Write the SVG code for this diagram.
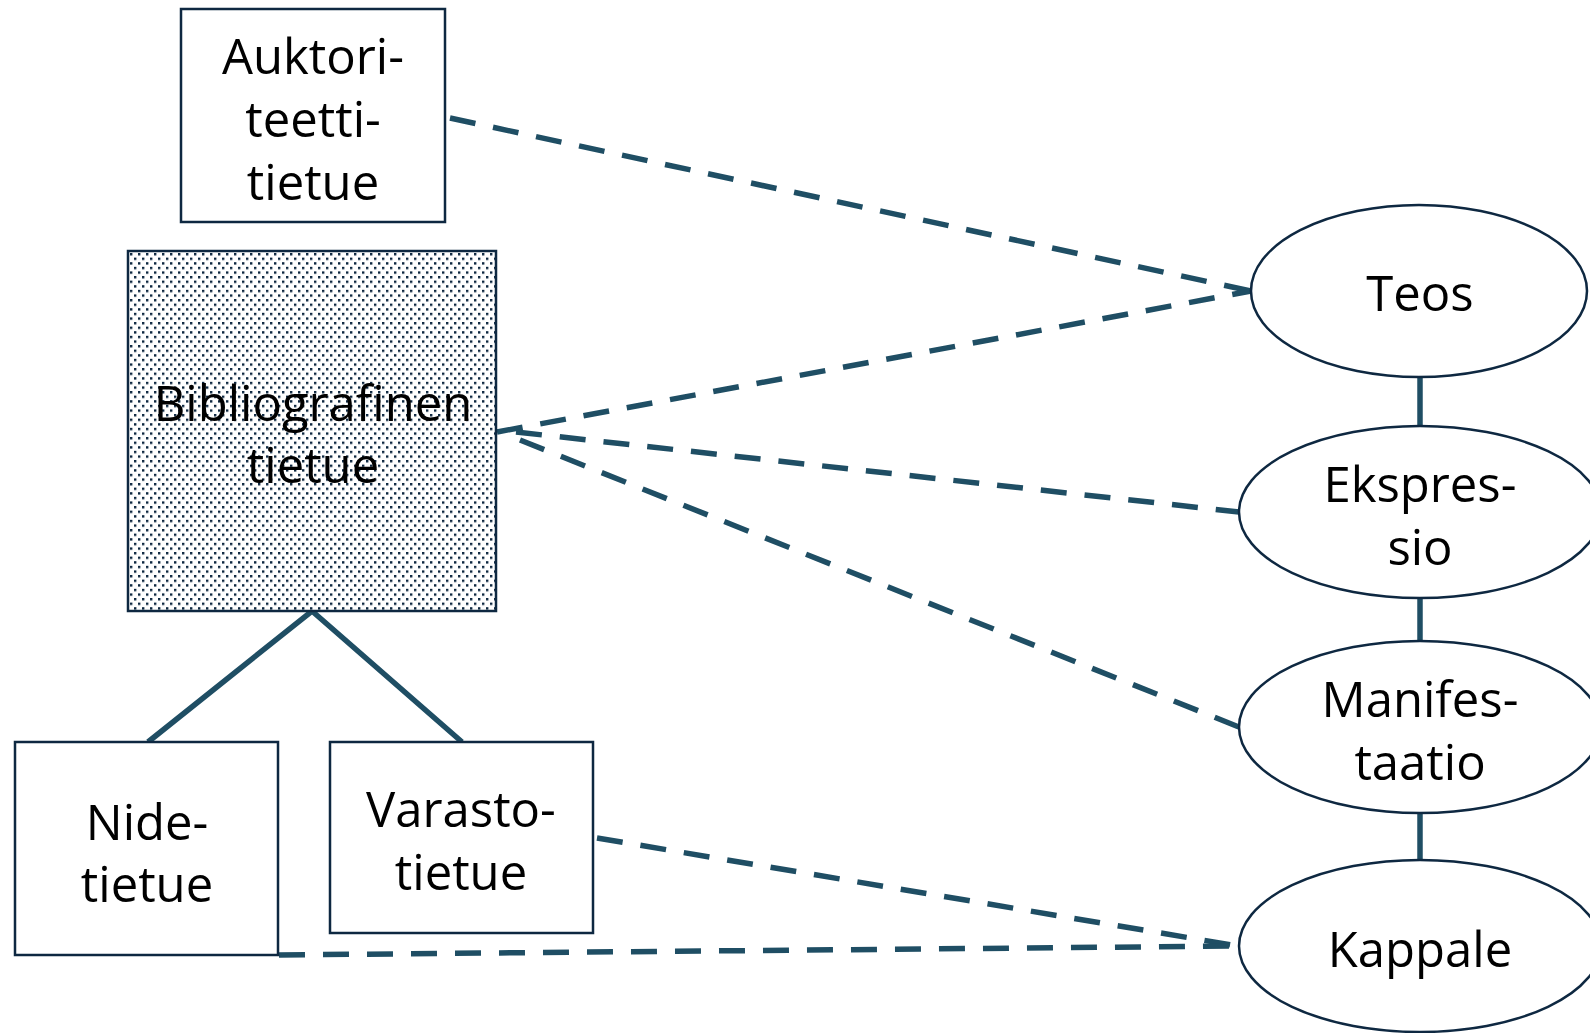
<svg xmlns="http://www.w3.org/2000/svg" width="1590" height="1033" viewBox="0 0 1590 1033">
  <defs>
    <pattern id="dots" patternUnits="userSpaceOnUse" x="130" y="253" width="8" height="9.2">
      <rect x="0" y="0" width="2.4" height="2.4" fill="#0E2841"/>
      <rect x="4" y="4.6" width="2.4" height="2.4" fill="#0E2841"/>
    </pattern>
    <style>
      .box { fill: #FFFFFF; stroke: #0E2841; stroke-width: 2.5; }
      .ell { fill: #FFFFFF; stroke: #0E2841; stroke-width: 2.5; }
      .txt { font-family: "Open Sans", "Noto Sans", "Liberation Sans", sans-serif; font-size: 49px; fill: #000000; text-anchor: middle; }
      .dash { fill: none; stroke: #1F4E64; stroke-width: 5.5; stroke-dasharray: 26 18; }
      .solid { fill: none; stroke: #1F4E64; stroke-width: 5.5; }
    </style>
  </defs>
  <rect width="1590" height="1033" fill="#FFFFFF"/>

  <g id="connectors">
    <line class="dash" x1="450" y1="118" x2="1251" y2="291"/>
    <line class="dash" x1="497" y1="432" x2="1251" y2="291"/>
    <line class="dash" x1="516" y1="432" x2="1239" y2="512"/>
    <line class="dash" x1="520" y1="440" x2="1239" y2="727"/>
    <line class="dash" x1="597" y1="838" x2="1238" y2="946"/>
    <line class="dash" x1="279" y1="955" x2="1238" y2="946"/>
    <polyline class="solid" points="148,742 312,611 462,742"/>
    <line class="solid" x1="1420" y1="377" x2="1420" y2="426"/>
    <line class="solid" x1="1420" y1="598" x2="1420" y2="641"/>
    <line class="solid" x1="1420" y1="813" x2="1420" y2="860"/>
  </g>

  <g id="auktoriteettitietue">
    <rect class="box" x="181" y="9" width="264" height="213"/>
    <text class="txt" x="313" y="74">Auktori-</text>
    <text class="txt" x="313" y="137">teetti-</text>
    <text class="txt" x="313" y="200">tietue</text>
  </g>

  <g id="bibliografinen-tietue">
    <rect x="128" y="251" width="368" height="360" fill="#FFFFFF"/>
    <rect x="128" y="251" width="368" height="360" fill="url(#dots)" stroke="#0E2841" stroke-width="2.5"/>
    <text class="txt" x="313" y="421">Bibliografinen</text>
    <text class="txt" x="313" y="483">tietue</text>
  </g>

  <g id="nidetietue">
    <rect class="box" x="15" y="742" width="263" height="213"/>
    <text class="txt" x="147" y="840">Nide-</text>
    <text class="txt" x="147" y="902">tietue</text>
  </g>

  <g id="varastotietue">
    <rect class="box" x="330" y="742" width="263" height="191"/>
    <text class="txt" x="461" y="827">Varasto-</text>
    <text class="txt" x="461" y="890">tietue</text>
  </g>

  <g id="teos">
    <ellipse class="ell" cx="1419" cy="291" rx="168" ry="86"/>
    <text class="txt" x="1420" y="311">Teos</text>
  </g>

  <g id="ekspressio">
    <ellipse class="ell" cx="1420" cy="512" rx="181" ry="86"/>
    <text class="txt" x="1420" y="502">Ekspres-</text>
    <text class="txt" x="1420" y="565">sio</text>
  </g>

  <g id="manifestaatio">
    <ellipse class="ell" cx="1420" cy="727" rx="181" ry="86"/>
    <text class="txt" x="1420" y="717">Manifes-</text>
    <text class="txt" x="1420" y="780">taatio</text>
  </g>

  <g id="kappale">
    <ellipse class="ell" cx="1420" cy="946" rx="181" ry="86"/>
    <text class="txt" x="1420" y="967">Kappale</text>
  </g>
</svg>
